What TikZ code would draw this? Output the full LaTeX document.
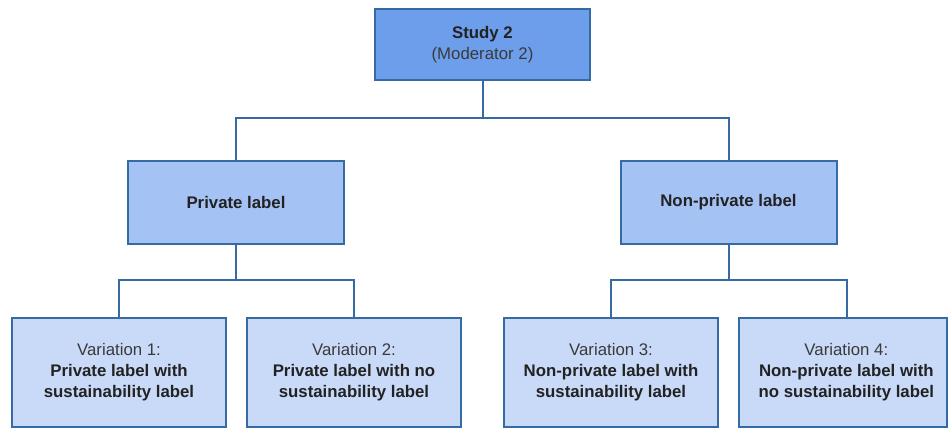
\documentclass[tikz,border=0pt]{standalone}
\usepackage{fontspec}
\setmainfont{Liberation Sans}
\definecolor{bordc}{HTML}{356AA3}
\definecolor{topfill}{HTML}{6D9EEB}
\definecolor{midfill}{HTML}{A4C2F4}
\definecolor{botfill}{HTML}{C9DAF8}
\definecolor{txtc}{HTML}{222222}
\definecolor{lighttxt}{HTML}{3A3A3A}
\begin{document}
\begin{tikzpicture}[x=0.75pt,y=-0.75pt,
  boxbase/.style={draw=bordc,line width=1.5pt,align=center,inner sep=0pt,
    font=\fontsize{12.6}{15.75}\selectfont,text=txtc},
  topbox/.style={boxbase,fill=topfill,minimum width=161.25pt,minimum height=53.25pt},
  midbox/.style={boxbase,fill=midfill,minimum width=162pt,minimum height=62.25pt},
  botbox/.style={boxbase,fill=botfill,minimum width=160.5pt,minimum height=81.75pt},
  conn/.style={draw=bordc,line width=1.5pt}]
\useasboundingbox (0,0) rectangle (948,428);
\fill[white] (0,0) rectangle (948,428);

\node[topbox] (s) at (482.5,44.5) {\textbf{Study 2}\\{\color{lighttxt}(Moderator 2)}};
\node[midbox] (pl) at (236,202.5) {\textbf{Private label}};
\node[midbox] (npl) at (728.5,202.5) {\textbf{Non-private label}};

\node[botbox] (v1) at (119,372) {{\color{lighttxt}Variation 1:}\\\textbf{Private label with}\\\textbf{sustainability label}};
\node[botbox] (v2) at (354,372) {{\color{lighttxt}Variation 2:}\\\textbf{Private label with no}\\\textbf{sustainability label}};
\node[botbox] (v3) at (611,372) {{\color{lighttxt}Variation 3:}\\\textbf{Non-private label with}\\\textbf{sustainability label}};
\node[botbox,minimum width=155.6pt] (v4) at (842.8,372) {\hspace*{5.3pt}\begin{tabular}{@{}c@{}}{\color{lighttxt}Variation 4:}\\\textbf{Non-private label with}\\\textbf{no sustainability label}\end{tabular}};

\coordinate (j0) at (482.5,118);
\coordinate (j1) at (236,280);
\coordinate (j2) at (728.5,280);

\draw[conn] (s.south) -- (j0);
\draw[conn] (j0) -| (pl.north);
\draw[conn] (j0) -| (npl.north);
\draw[conn] (pl.south) -- (j1);
\draw[conn] (j1) -| (v1.north);
\draw[conn] (j1) -| (v2.north);
\draw[conn] (npl.south) -- (j2);
\draw[conn] (j2) -| (v3.north);
\draw[conn] (j2) -| ([xshift=3pt]v4.north);
\end{tikzpicture}
\end{document}
